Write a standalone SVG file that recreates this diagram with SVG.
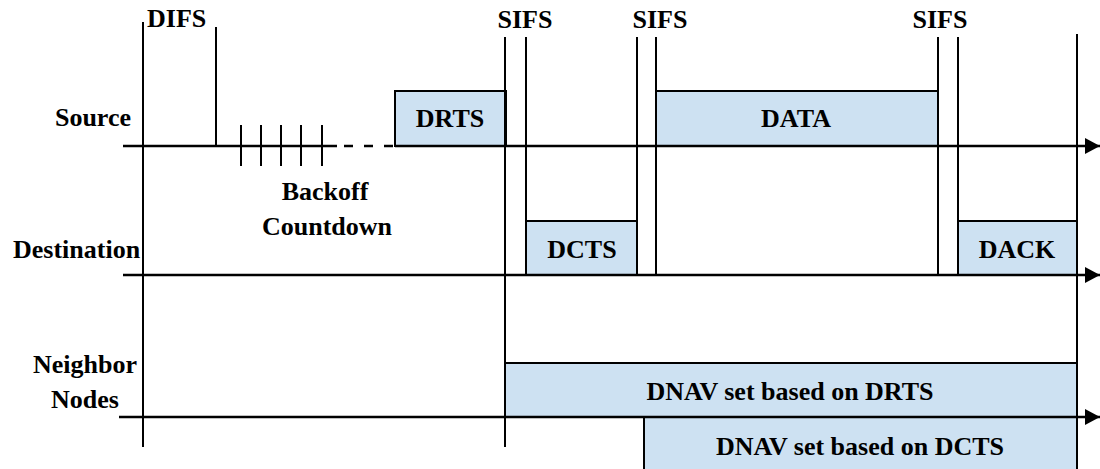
<svg xmlns="http://www.w3.org/2000/svg" width="1100" height="469" viewBox="0 0 1100 469">
<style>
text{font-family:"Liberation Serif","Times New Roman",serif;font-weight:bold;font-size:26px;fill:#000}
.c{text-anchor:middle}
.v{stroke:#000;stroke-width:2;fill:none}
.ax{stroke:#000;stroke-width:2.5;fill:none}
.box{fill:#cde1f2;stroke:#000;stroke-width:2}
</style>
<defs>
<marker id="arr" markerUnits="userSpaceOnUse" markerWidth="15" markerHeight="16" refX="15" refY="8" orient="auto">
<path d="M0,0 L15,8 L0,16 Z" fill="#000"/>
</marker>
</defs>
<rect width="1100" height="469" fill="#fff"/>
<g id="boxes">
<g id="drts"><rect class="box" x="395" y="91" width="111" height="55"/><text class="c" x="450" y="127">DRTS</text></g>
<g id="data"><rect class="box" x="656" y="91" width="282" height="55"/><text class="c" x="796" y="127">DATA</text></g>
<g id="dcts"><rect class="box" x="526" y="221" width="111" height="54"/><text class="c" x="582" y="258">DCTS</text></g>
<g id="dack"><rect class="box" x="958" y="221" width="119" height="54"/><text class="c" x="1017" y="258">DACK</text></g>
<g id="dnav1"><rect class="box" x="505" y="363" width="572" height="54"/><text class="c" x="790" y="400">DNAV set based on DRTS</text></g>
<g id="dnav2"><rect class="box" x="644" y="417" width="433" height="60"/><text class="c" x="860" y="455">DNAV set based on DCTS</text></g>
</g>
<g id="connectors">
<line class="v" x1="143" y1="22" x2="143" y2="447"/>
<line class="v" x1="216" y1="27" x2="216" y2="146"/>
<line class="v" x1="505" y1="37" x2="505" y2="447"/>
<line class="v" x1="526" y1="37" x2="526" y2="275"/>
<line class="v" x1="637" y1="37" x2="637" y2="275"/>
<line class="v" x1="656" y1="37" x2="656" y2="275"/>
<line class="v" x1="938" y1="37" x2="938" y2="275"/>
<line class="v" x1="958" y1="37" x2="958" y2="275"/>
<line class="v" x1="1077" y1="34" x2="1077" y2="466"/>
<g id="ticks">
<line class="v" x1="241" y1="125" x2="241" y2="166"/>
<line class="v" x1="261" y1="125" x2="261" y2="166"/>
<line class="v" x1="281" y1="125" x2="281" y2="166"/>
<line class="v" x1="301" y1="125" x2="301" y2="166"/>
<line class="v" x1="322" y1="125" x2="322" y2="166"/>
</g>
<line class="ax" x1="123" y1="146" x2="337" y2="146"/>
<line class="ax" x1="344" y1="146" x2="395" y2="146" stroke-dasharray="9,11"/>
<line class="ax" x1="395" y1="146" x2="1100" y2="146" marker-end="url(#arr)"/>
<line class="ax" x1="123" y1="275" x2="1100" y2="275" marker-end="url(#arr)"/>
<line class="ax" x1="119" y1="417" x2="1100" y2="417" marker-end="url(#arr)"/>
</g>
<g id="labels">
<text x="147" y="27">DIFS</text>
<text class="c" x="525" y="28">SIFS</text>
<text class="c" x="660" y="28">SIFS</text>
<text class="c" x="940" y="28">SIFS</text>
<text x="131" y="126" text-anchor="end">Source</text>
<text x="13" y="258">Destination</text>
<text class="c" x="325" y="200">Backoff</text>
<text class="c" x="327" y="235">Countdown</text>
<text class="c" x="85" y="373">Neighbor</text>
<text class="c" x="85" y="408">Nodes</text>
</g>
</svg>
